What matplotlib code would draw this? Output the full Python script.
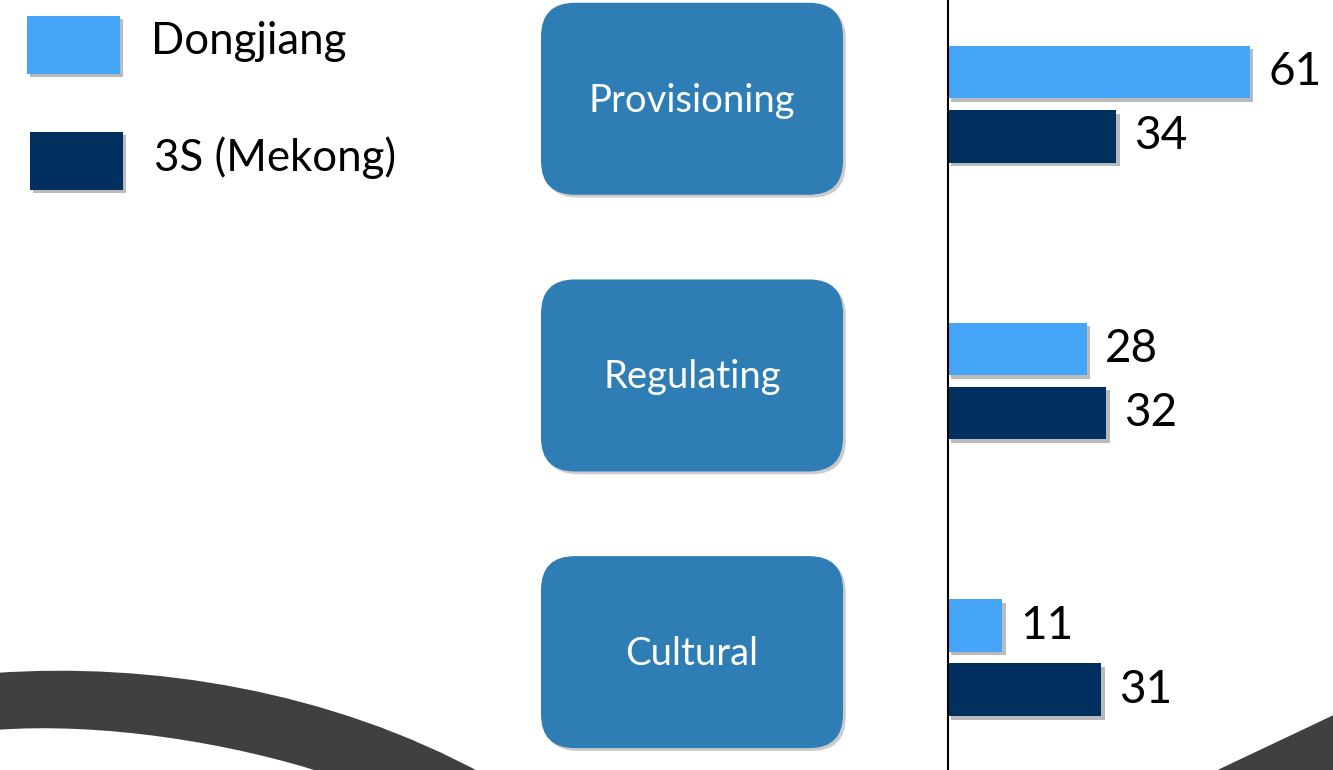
import matplotlib.pyplot as plt
import matplotlib.patheffects as pe
from matplotlib.patches import FancyBboxPatch, Rectangle, PathPatch, Polygon
from matplotlib.path import Path
import numpy as np

plt.rcParams['font.family'] = ['Lato', 'DejaVu Sans']

categories = ["Provisioning", "Regulating", "Cultural"]
series_names = ["Dongjiang", "3S (Mekong)"]
dongjiang = [61, 28, 11]
mekong = [34, 32, 31]

light = "#45A5F8"
dark = "#003060"
box_color = "#2E7DB4"
deco = "#404040"

W, H = 1333, 770
fig = plt.figure(figsize=(W / 100, H / 100), dpi=100)

# background layer in pixel coordinates (y down)
bg = fig.add_axes([0, 0, 1, 1])
bg.set_xlim(0, W)
bg.set_ylim(H, 0)
bg.axis('off')

# bar chart on the right
ax = fig.add_axes([948 / W, 0, (W - 948) / W, 1])
ax.set_xlim(0, (W - 948) / 4.95)
ax.set_ylim(2.406, -0.377)
for s in ["top", "right", "bottom"]:
    ax.spines[s].set_visible(False)
ax.spines["left"].set_linewidth(1.5)
ax.set_xticks([])
ax.set_yticks([])
ax.patch.set_alpha(0)

y = np.arange(len(categories))
bar_h = 0.19
off = 0.116
shadow = [pe.SimplePatchShadow(offset=(2.5, -2.5), shadow_rgbFace="#777777", alpha=0.5), pe.Normal()]

b1 = ax.barh(y - off, dongjiang, bar_h, color=light, path_effects=shadow)
b2 = ax.barh(y + off, mekong, bar_h, color=dark, path_effects=shadow)
ax.bar_label(b1, padding=13, fontsize=33, color="black")
ax.bar_label(b2, padding=13, fontsize=33, color="black")

# category boxes, aligned to the bar groups
box_shadow = [pe.SimplePatchShadow(offset=(2, -2), shadow_rgbFace="#999999", alpha=0.5), pe.Normal()]
for i, cat in enumerate(categories):
    cy = H - ax.transData.transform((0, i - 0.02))[1]
    bx = FancyBboxPatch((541, cy - 96), 302, 192,
                        boxstyle="round,pad=0,rounding_size=34",
                        fc=box_color, ec="none", path_effects=box_shadow)
    bg.add_patch(bx)
    bg.text(692, cy + 2, cat, color="white", fontsize=27.5, ha="center", va="center")

# legend
leg_colors = [light, dark]
leg_y = [45, 161]
leg_x = [27, 30]
for name, c, ly, lx in zip(series_names, leg_colors, leg_y, leg_x):
    r = Rectangle((lx, ly - 29), 93, 58, fc=c, ec="none", path_effects=shadow)
    bg.add_patch(r)
    bg.text(lx + 124, ly - 3, name, fontsize=31.5, color="black", va="center", ha="left")

# decorative dark shapes
band = Path([(-5, 673), (150, 662), (330, 690), (485, 775),
             (330, 775),
             (230, 742), (100, 722), (-5, 730),
             (-5, 673)],
            [Path.MOVETO, Path.CURVE4, Path.CURVE4, Path.CURVE4,
             Path.LINETO,
             Path.CURVE4, Path.CURVE4, Path.CURVE4,
             Path.CLOSEPOLY])
bg.add_patch(PathPatch(band, fc=deco, ec="none"))
bg.add_patch(Polygon([(1207, 775), (1340, 712), (1340, 775)], closed=True, fc=deco, ec="none"))

fig.savefig("out.png", dpi=100)
